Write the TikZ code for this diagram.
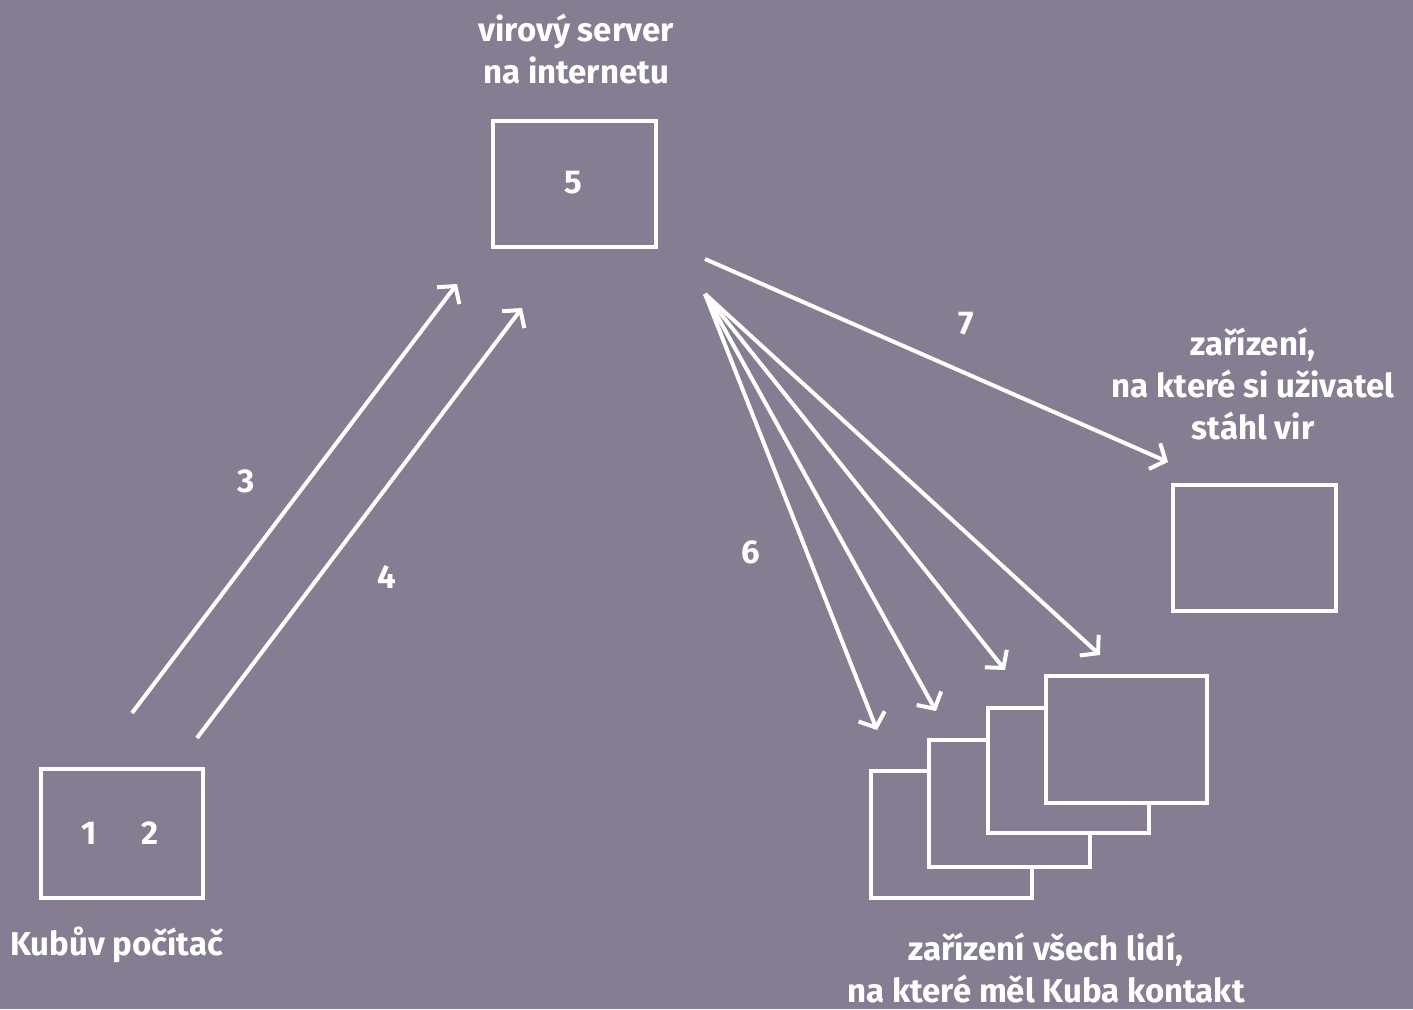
\documentclass[tikz,border=0pt]{standalone}
\usepackage{fontspec}
\setmainfont{Fira Sans}
\usetikzlibrary{arrows.meta}
\definecolor{bg}{RGB}{133,125,145}
\tikzset{
  box/.style={draw=white, line width=4pt, fill=bg},
  arr/.style={draw=white, line width=4pt, -{Straight Barb[length=12pt,width=28pt,line width=4pt]}},
  lbl/.style={text=white, font=\fontsize{33}{42}\selectfont\bfseries, align=center, inner sep=0pt},
}
\begin{document}
\begin{tikzpicture}[x=1pt,y=-1pt]
\fill[bg] (0,0) rectangle (1413,1009);
\useasboundingbox (0,0) rectangle (1413,1009);
% boxes
\node[box, minimum width=163pt, minimum height=126pt, anchor=north west] (server) at (491,119) {};
\node[box, minimum width=162pt, minimum height=129pt, anchor=north west] (kuba) at (39,767) {};
\node[box, minimum width=163pt, minimum height=126pt, anchor=north west] (dev) at (1171,483) {};
\node[box, minimum width=161pt, minimum height=127pt, anchor=north west] (c1) at (869,769) {};
\node[box, minimum width=161pt, minimum height=127pt, anchor=north west] (c2) at (927,738) {};
\node[box, minimum width=161pt, minimum height=125pt, anchor=north west] (c3) at (986,706) {};
\node[box, minimum width=161pt, minimum height=127pt, anchor=north west] (c4) at (1044,674) {};
% numbers in boxes
\node[lbl] (n5) at (573,183) {5};
\node[lbl] (n1) at (89,833) {1};
\node[lbl] (n2) at (150,833) {2};
% captions
\node[lbl] (tserver) at (576,49) {virový server\\na internetu};
\node[lbl, anchor=west] (tkuba) at (10,945) {Kubův počítač};
\node[lbl] (tdev) at (1253,384) {zařízení,\\na které si uživatel\\stáhl vir};
\node[lbl] (tcont) at (1046,968) {zařízení všech lidí,\\na které měl Kuba kontakt};
% arrow labels
\node[lbl] (l3) at (246,481) {3};
\node[lbl] (l4) at (387,577) {4};
\node[lbl] (l6) at (751,552) {6};
\node[lbl] (l7) at (966,324) {7};
% connector endpoints
\coordinate (s3) at (132,713);
\coordinate (e3) at (457,284);
\coordinate (s4) at (197,738);
\coordinate (e4) at (522,308);
\coordinate (s7) at (705,259);
\coordinate (e7) at (1168,462);
\coordinate (hub) at (705,294);
\coordinate (f1) at (877,730);
\coordinate (f2) at (936,711);
\coordinate (f3) at (1005,670);
\coordinate (f4) at (1100,655);
\draw[arr] (s3) -- (e3);
\draw[arr] (s4) -- (e4);
\draw[arr] (s7) -- (e7);
\draw[arr] (hub) -- (f1);
\draw[arr] (hub) -- (f2);
\draw[arr] (hub) -- (f3);
\draw[arr] (hub) -- (f4);
\end{tikzpicture}
\end{document}
